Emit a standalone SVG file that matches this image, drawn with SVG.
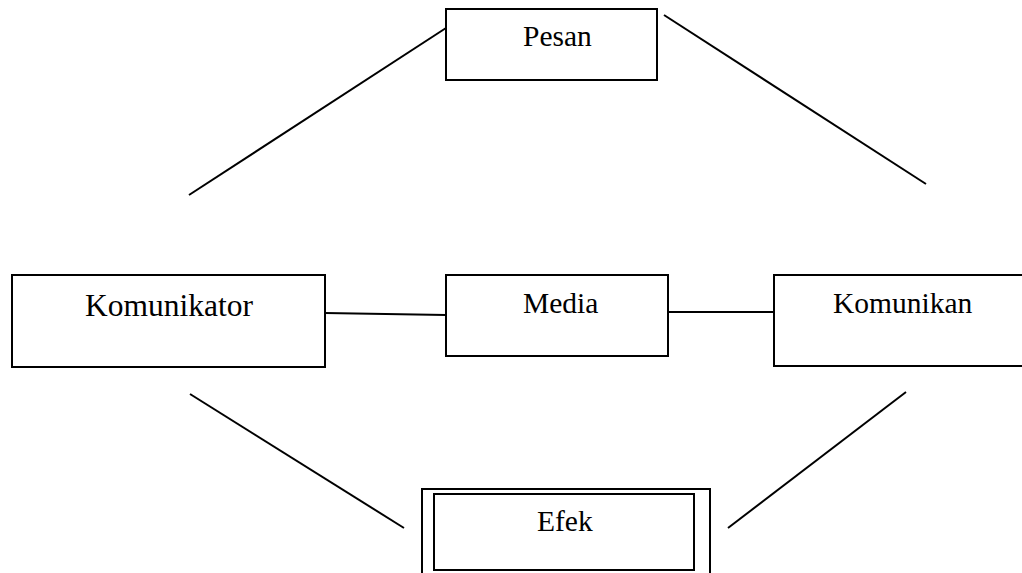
<svg xmlns="http://www.w3.org/2000/svg" width="1022" height="573" viewBox="0 0 1022 573">
<style>
.box{fill:#fff;stroke:#000;stroke-width:2}
.ln{stroke:#000;stroke-width:2;fill:none}
text{font-family:"Liberation Serif","Times New Roman",serif;font-size:29.5px;fill:#000}
.big{font-size:31.5px}
</style>
<rect width="1022" height="573" fill="#fff"/>
<g id="connectors">
<line class="ln" x1="189" y1="195" x2="446" y2="28"/>
<line class="ln" x1="664" y1="15" x2="926" y2="184"/>
<line class="ln" x1="325" y1="313" x2="446" y2="315"/>
<line class="ln" x1="668" y1="312" x2="774" y2="312"/>
<line class="ln" x1="190" y1="394" x2="404" y2="528"/>
<line class="ln" x1="906" y1="392" x2="728" y2="528"/>
</g>
<g id="pesan">
<rect class="box" x="446" y="9" width="211" height="71"/>
<text x="523" y="46">Pesan</text>
</g>
<g id="komunikator">
<rect class="box" x="12" y="275" width="313" height="92"/>
<text class="big" x="85" y="316">Komunikator</text>
</g>
<g id="media">
<rect class="box" x="446" y="275" width="222" height="81"/>
<text x="523" y="313">Media</text>
</g>
<g id="komunikan">
<rect class="box" x="774" y="275" width="260" height="91"/>
<text x="833" y="313">Komunikan</text>
</g>
<g id="efek">
<rect class="box" x="422" y="489" width="288" height="100"/>
<rect class="box" x="434" y="494" width="260" height="76"/>
<text x="537" y="531">Efek</text>
</g>
</svg>
